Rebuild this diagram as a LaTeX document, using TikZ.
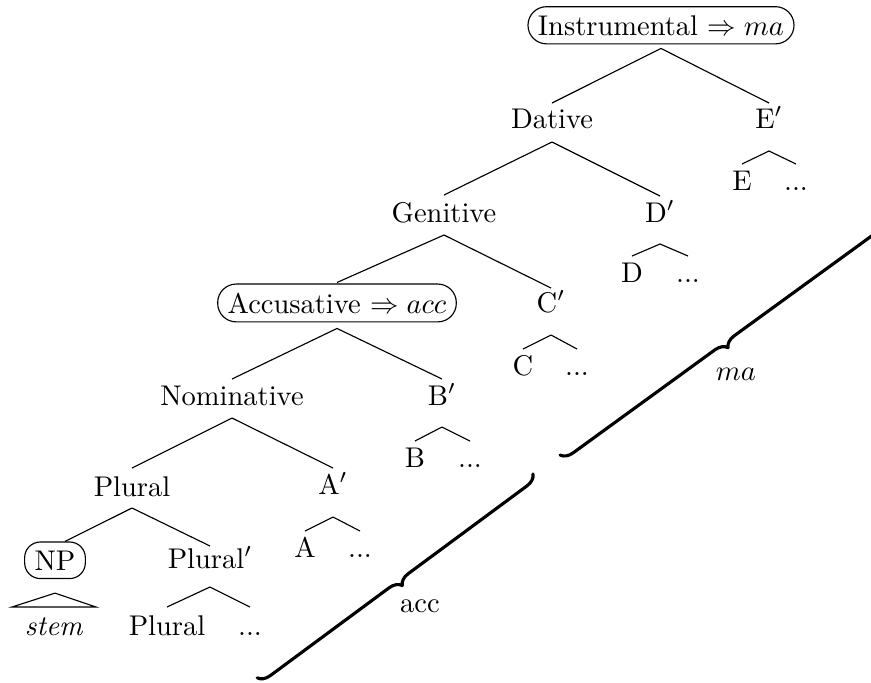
\documentclass[tikz,border=0pt]{standalone}
\usetikzlibrary{decorations.pathreplacing,calc}
\begin{document}
\begin{tikzpicture}[x=0.351pt,y=-0.351pt,
  lab/.style={anchor=base,inner sep=0pt},
  boxed/.style={anchor=base,draw,rounded corners=6.5pt,inner xsep=3.5pt,inner ysep=3pt,line width=0.4pt},
  br/.style={line width=0.4pt},
  brc/.style={decorate,decoration={brace,amplitude=4.2pt},line width=1.1pt,line cap=round,line join=round}]
\clip (0,0) rectangle (871,682);
% nodes
\node[boxed] (I) at (661,35) {Instrumental $\Rightarrow ma$};
\node[lab] (Dat) at (552,128) {Dative};
\node[lab] (Ep) at (769,128) {E$'$};
\node[lab] (E) at (742,190) {E};
\node[lab] (Ed) at (796,190) {...};
\node[lab] (Gen) at (444,222) {Genitive};
\node[lab] (Dp) at (660,222) {D$'$};
\node[lab] (D) at (632,282) {D};
\node[lab] (Dd) at (688,282) {...};
\node[boxed] (Acc) at (337,313) {Accusative $\Rightarrow acc$};
\node[lab] (Cp) at (551,312) {C$'$};
\node[lab] (C) at (523,375) {C};
\node[lab] (Cd) at (577,375) {...};
\node[lab] (Nom) at (232,405) {Nominative};
\node[lab] (Bp) at (442,405) {B$'$};
\node[lab] (B) at (415,467) {B};
\node[lab] (Bd) at (470,467) {...};
\node[lab] (Pl) at (132,496) {Plural};
\node[lab] (Ap) at (333,494) {A$'$};
\node[lab] (A) at (305,557) {A};
\node[lab] (Ad) at (360,557) {...};
\node[boxed,rounded corners=5.5pt] (NP) at (55,570) {NP};
\node[lab] (Plp) at (210,568) {Plural$'$};
\node[lab] (stem) at (54,635) {\textit{stem}};
\node[lab] (Pll) at (167,635) {Plural};
\node[lab] (Plld) at (250,635) {...};
% branches
\draw[br] ($(I.south)+(0,4)$) coordinate (Ia) -- ($(Dat.base)+(0,-25)$) (Ia) -- ($(Ep.base)+(0,-25)$);
\draw[br] ($(Dat.base)+(0,14)$) coordinate (Da) -- ($(Gen.base)+(0,-27)$) (Da) -- ($(Dp.base)+(0,-26)$);
\draw[br] ($(Gen.base)+(0,13)$) coordinate (Ga) -- ($(Acc.north)+(0,-1)$) (Ga) -- ($(Cp.base)+(0,-24)$);
\draw[br] ($(Acc.south)+(0,6)$) coordinate (Aa) -- ($(Nom.base)+(0,-26)$) (Aa) -- ($(Bp.base)+(0,-26)$);
\draw[br] ($(Nom.base)+(0,13)$) coordinate (Na) -- ($(Pl.base)+(0,-28)$) (Na) -- ($(Ap.base)+(0,-26)$);
\draw[br] ($(Pl.base)+(0,12)$) coordinate (Pa) -- ($(NP.north)+(10,0)$) (Pa) -- ($(Plp.base)+(0,-22)$);
% roofs
\draw[br] ($(Ep.base)+(0,23)$) coordinate (Er) -- ($(E.base)+(0,-26)$) (Er) -- ($(Ed.base)+(0,-26)$);
\draw[br] ($(Dp.base)+(0,22)$) coordinate (Dr) -- ($(D.base)+(0,-26)$) (Dr) -- ($(Dd.base)+(0,-26)$);
\draw[br] ($(Cp.base)+(0,23)$) coordinate (Cr) -- ($(C.base)+(0,-26)$) (Cr) -- ($(Cd.base)+(0,-26)$);
\draw[br] ($(Bp.base)+(0,22)$) coordinate (Br) -- ($(B.base)+(0,-26)$) (Br) -- ($(Bd.base)+(0,-26)$);
\draw[br] ($(Ap.base)+(0,23)$) coordinate (Ar) -- ($(A.base)+(0,-26)$) (Ar) -- ($(Ad.base)+(0,-26)$);
\draw[br] ($(Plp.base)+(0,19)$) coordinate (Pr) -- ($(Pll.base)+(0,-28)$) (Pr) -- ($(Plld.base)+(0,-28)$);
\draw[br] ($(NP.south)+(0,14)$) -- ($(stem.base)+(-42,-28)$) -- ($(stem.base)+(42,-28)$) -- cycle;
% braces
\coordinate (accT) at (533,474);
\coordinate (accB) at (257,678);
\draw[brc] (accT) -- (accB);
\node[lab] (accl) at (420,612) {acc};
\coordinate (maT) at (882,221);
\coordinate (maB) at (560,455);
\draw[brc] (maT) -- (maB);
\node[lab] (mal) at (736,380) {$ma$};
\end{tikzpicture}
\end{document}
